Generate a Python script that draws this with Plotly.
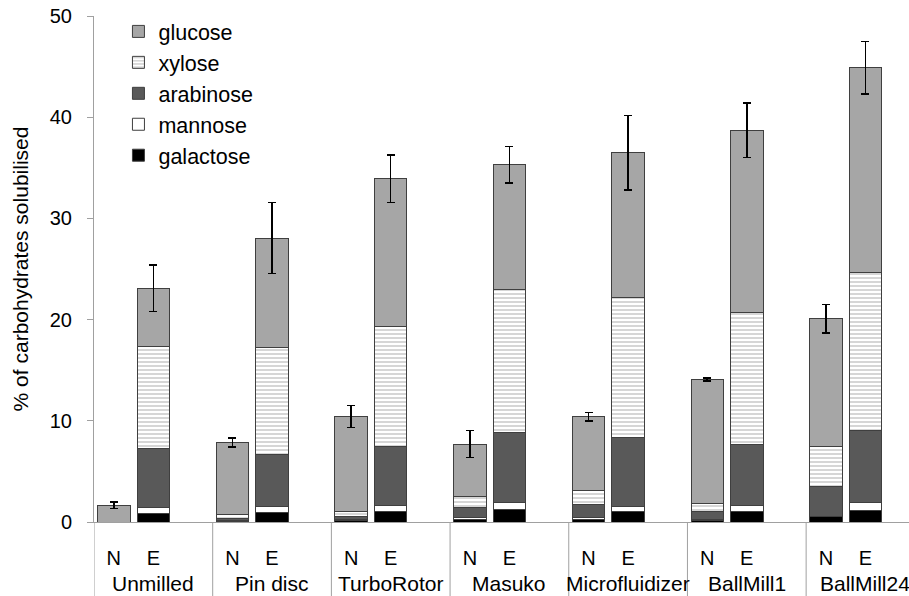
import plotly.graph_objects as go

groups = ["Unmilled", "Pin disc", "TurboRotor", "Masuko", "Microfluidizer", "BallMill1", "BallMill24"]
subs = ["N", "E"]

galactose_N = [0.00, 0.05, 0.10, 0.27, 0.27, 0.17, 0.50]
galactose_E = [0.83, 0.93, 0.99, 1.26, 1.02, 1.00, 1.09]
mannose_N = [0.00, 0.10, 0.10, 0.15, 0.15, 0.05, 0.00]
mannose_E = [0.60, 0.56, 0.63, 0.62, 0.56, 0.65, 0.81]
arabinose_N = [0.00, 0.20, 0.35, 1.03, 1.30, 0.86, 3.00]
arabinose_E = [5.84, 5.21, 5.87, 7.00, 6.77, 6.04, 7.18]
xylose_N = [0.00, 0.35, 0.45, 1.05, 1.38, 0.77, 3.96]
xylose_E = [10.03, 10.55, 11.81, 14.12, 13.85, 13.01, 15.62]
glucose_N = [1.66, 7.14, 9.43, 5.19, 7.30, 12.25, 12.64]
glucose_E = [5.80, 10.80, 14.60, 12.30, 14.30, 18.00, 20.20]
err_N = [0.32, 0.45, 1.10, 1.34, 0.40, 0.15, 1.40]
err_E = [2.30, 3.50, 2.35, 1.80, 3.67, 2.70, 2.60]

SLOTS = 3  # N, E, blank per group
xs = [SLOTS * g + k for g in range(len(groups)) for k in range(len(subs))]
xlabels = [s for g in groups for s in subs]


def inter(a, b):
    out = []
    for u, v in zip(a, b):
        out += [u, v]
    return out


outline = dict(color="#3f3f3f", width=1)
BW = 0.82
fig = go.Figure()
fig.add_trace(go.Bar(x=xs, y=inter(galactose_N, galactose_E), name="galactose", width=BW,
                     marker=dict(color="black", line=outline)))
fig.add_trace(go.Bar(x=xs, y=inter(mannose_N, mannose_E), name="mannose", width=BW,
                     marker=dict(color="white", line=outline)))
fig.add_trace(go.Bar(x=xs, y=inter(arabinose_N, arabinose_E), name="arabinose", width=BW,
                     marker=dict(color="#595959", line=outline)))
fig.add_trace(go.Bar(x=xs, y=inter(xylose_N, xylose_E), name="xylose", width=BW,
                     marker=dict(color="white", line=outline,
                                 pattern=dict(shape="-", fgcolor="#adadad", bgcolor="white",
                                              size=4, solidity=0.5))))
fig.add_trace(go.Bar(x=xs, y=inter(glucose_N, glucose_E), name="glucose", width=BW,
                     marker=dict(color="#a6a6a6", line=outline),
                     error_y=dict(type="data", array=inter(err_N, err_E), color="black",
                                  thickness=1.5, width=4)))

AX = "#a0a0a0"
shapes = []
for g in range(len(groups) + 1):
    shapes.append(dict(type="line", xref="x", yref="paper", x0=SLOTS * g - 0.5, x1=SLOTS * g - 0.5,
                       y0=0, y1=-0.2, line=dict(color=AX, width=1)))
annotations = []
for g, name in enumerate(groups):
    annotations.append(dict(x=SLOTS * g + 1, y=-0.121, xref="x", yref="paper", text=name,
                            showarrow=False, yanchor="middle", xanchor="center",
                            font=dict(size=21, color="black")))

fig.update_layout(
    width=909, height=596,
    margin=dict(l=94, r=0, t=16, b=74, autoexpand=False),
    barmode="stack",
    plot_bgcolor="white", paper_bgcolor="white",
    font=dict(family="Liberation Sans, Arial, sans-serif", color="black"),
    showlegend=True,
    legend=dict(traceorder="reversed", x=0.03, y=1.01, xanchor="left", yanchor="top",
                font=dict(size=21.5, color="black"), bgcolor="rgba(0,0,0,0)"),
    shapes=shapes,
    annotations=annotations,
    xaxis=dict(range=[-0.5, 20.1], tickmode="array", tickvals=xs, ticktext=xlabels,
               ticks="", showline=True, linecolor=AX, linewidth=1, showgrid=False,
               zeroline=False, tickfont=dict(size=20, color="black"), ticklabelstandoff=18,
               automargin=False),
    yaxis=dict(range=[0, 50], tickmode="array", tickvals=[0, 10, 20, 30, 40, 50],
               ticks="outside", ticklen=6, tickcolor=AX, showline=True, linecolor=AX,
               linewidth=1, showgrid=False, zeroline=False,
               tickfont=dict(size=20, color="black"), ticklabelstandoff=11,
               automargin=False,
               title=dict(text="% of carbohydrates solubilised", font=dict(size=21, color="black"),
                          standoff=15)),
)

fig.write_html("out.html", config={"displayModeBar": False},
               post_script="document.body.style.margin='0';document.body.style.overflow='hidden';")
